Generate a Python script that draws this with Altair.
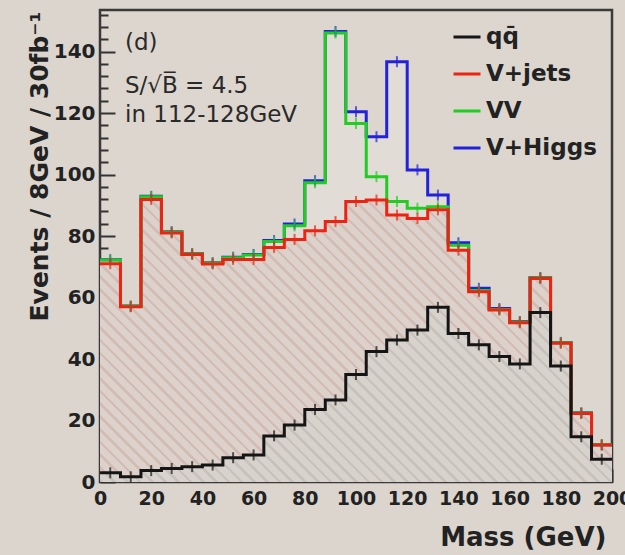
import altair as alt
import pandas as pd

# ---------------- data ----------------
bin_width = 8
bin_low = list(range(0, 200, 8))          # 25 bins, 0-200 GeV
series_names = ["qq̄", "V+jets", "VV", "V+Higgs"]
series_colors = ["#151515", "#ee2211", "#22cc22", "#2222dd"]

qq = [3.0, 1.7, 3.7, 4.4, 5.0, 5.5, 7.9, 8.8, 15.0, 18.5, 23.6, 26.7, 35.0,
      42.4, 46.2, 49.4, 56.8, 48.3, 44.6, 40.8, 38.4, 55.1, 37.7, 14.7, 7.4]
vjets = [71.0, 57.0, 91.9, 81.0, 74.0, 70.9, 72.4, 72.4, 76.3, 78.9, 81.7, 84.7, 91.2,
         91.7, 86.8, 85.7, 88.5, 75.4, 61.9, 55.9, 51.8, 66.2, 45.1, 22.3, 12.0]
vv = [72.2, 57.2, 92.8, 81.3, 74.2, 71.2, 72.9, 73.8, 78.2, 83.3, 97.3, 146.0, 116.6,
      99.3, 91.2, 89.0, 89.5, 77.0, 62.3, 56.1, 52.0, 66.4, 45.3, 22.4, 12.1]
vh = [72.3, 57.2, 92.9, 81.4, 74.3, 71.3, 73.1, 74.0, 78.5, 83.9, 98.0, 146.5, 120.4,
      112.3, 136.7, 101.5, 93.3, 77.8, 63.0, 56.4, 52.2, 66.5, 45.4, 22.5, 12.1]

annotations = ["(d)", "S/√B̅ = 4.5", "in 112-128GeV"]
x_title = "Mass (GeV)"
y_title = "Events / 8GeV / 30fb⁻¹"

x_max = 200
y_max = 153.5
x_ticks = list(range(0, 201, 5))      # labelled every 20
y_ticks = list(range(0, 153, 4))      # labelled every 20

# ---------------- tables ----------------
draw_order = ["V+Higgs", "VV", "V+jets", "qq̄"]
values_by_name = dict(zip(series_names, [qq, vjets, vv, vh]))

step_rows, bin_rows = [], []
for name in draw_order:
    vals = values_by_name[name]
    for lo, v in zip(bin_low, vals):
        step_rows.append({"series": name, "mass": lo, "value": v})
        bin_rows.append({"series": name, "mass": lo + bin_width / 2, "value": v})
    step_rows.append({"series": name, "mass": x_max, "value": vals[-1]})
steps = pd.DataFrame(step_rows)
bins = pd.DataFrame(bin_rows)

PLOT_W, PLOT_H = 512, 472
FONT = "DejaVu Sans"
TICK_COLOR = "#333333"


def hatch(line_color, gap_color, box_h, period=9.0, line_w=2.6):
    """Diagonal hatch ('\\' lines at 45 deg) as a striped linear gradient over the area's bounding box."""
    r = box_h / PLOT_W
    t = 1 + r
    x2, y2 = t / (1 + r * r), 1 - t * r / (1 + r * r)
    length_px = (PLOT_W + box_h) / 2 ** 0.5
    n = int(length_px / period) + 1
    stops = []
    for i in range(n):
        a = i * period / length_px
        if a >= 1:
            break
        b = min((i * period + line_w) / length_px, 1)
        c = min((i + 1) * period / length_px, 1)
        stops += [alt.GradientStop(offset=a, color=line_color),
                  alt.GradientStop(offset=b, color=line_color),
                  alt.GradientStop(offset=b, color=gap_color),
                  alt.GradientStop(offset=c, color=gap_color)]
    return alt.LinearGradient(gradient="linear", stops=stops, x1=0, y1=1, x2=x2, y2=y2)


xscale = alt.Scale(domain=[0, x_max], nice=False, zero=False)
yscale = alt.Scale(domain=[0, y_max], nice=False, zero=False)
color_scale = alt.Scale(domain=series_names, range=series_colors)
color = alt.Color("series:N", scale=color_scale,
                  legend=alt.Legend(title=None, orient="none", legendX=352, legendY=12,
                                    symbolType="stroke", symbolSize=729, symbolStrokeWidth=3,
                                    labelFont=FONT, labelFontWeight="bold", labelFontSize=23,
                                    labelColor="#222222", rowPadding=10, padding=0,
                                    labelOffset=4, labelLimit=300))

MAJOR = "datum.value % 20 === 0"
LABEL_EXPR = "datum.value % 20 === 0 ? datum.label : ''"

# inward ticks: the axis line is pushed inside by the major tick length, so the
# (outward) ticks end on the frame; minor ticks keep only their outer part via a dash
X_MAJ, X_MIN = 13, 7
Y_MAJ, Y_MIN = 15, 8
x_axis = alt.Axis(orient="bottom", values=x_ticks, domain=False, grid=False,
                  offset=-X_MAJ, tickSize=X_MAJ, tickColor=TICK_COLOR, tickWidth=2,
                  tickDash={"condition": {"test": MAJOR, "value": [100, 0]},
                            "value": [0, X_MAJ - X_MIN, X_MIN, 100]},
                  labelExpr=LABEL_EXPR, labelOverlap=False, labelFlush=False,
                  labelFont=FONT, labelFontWeight="bold", labelFontSize=19,
                  labelColor="#222222", labelPadding=7,
                  title=x_title, titleFont=FONT, titleFontWeight="bold", titleFontSize=26,
                  titleColor="#222222", titleAnchor="end", titleAlign="right",
                  titleX=506, titleY=63 + X_MAJ, titleBaseline="alphabetic")
y_axis = alt.Axis(orient="left", values=y_ticks, domain=False, grid=False,
                  offset=-Y_MAJ, tickSize=Y_MAJ, tickColor=TICK_COLOR, tickWidth=2,
                  tickDash={"condition": {"test": MAJOR, "value": [100, 0]},
                            "value": [0, Y_MAJ - Y_MIN, Y_MIN, 100]},
                  labelExpr=LABEL_EXPR, labelOverlap=False,
                  labelFont=FONT, labelFontWeight="bold", labelFontSize=20,
                  labelColor="#222222", labelPadding=5,
                  title=y_title, titleFont=FONT, titleFontWeight="bold", titleFontSize=25,
                  titleColor="#222222", titleAngle=270, titleAlign="right",
                  titleBaseline="bottom", titleX=-48 - Y_MAJ, titleY=1)


def X(field):
    return alt.X(field, scale=xscale, axis=x_axis, title=x_title)


def Y(field):
    return alt.Y(field, scale=yscale, axis=y_axis, title=y_title)


base = alt.Chart(steps)


def area(name, fill):
    return base.transform_filter(alt.datum.series == name).mark_area(
        interpolate="step-after", fill=fill, opacity=1).encode(x=X("mass:Q"), y=Y("value:Q"))


vj_box_h = max(vjets) / y_max * PLOT_H
qq_box_h = max(qq) / y_max * PLOT_H

fill_vh = area("V+Higgs", "#e1dcd6")
fill_vj = area("V+jets", hatch("#d2bdb4", "#ddd2cb", vj_box_h))
fill_qq = area("qq̄", hatch("#c8c2bc", "#d7d2cc", qq_box_h))

lines = base.mark_line(interpolate="step-after", strokeWidth=3).encode(
    x=X("mass:Q"), y=Y("value:Q"), color=color, detail="series:N")

errs = alt.Chart(bins).mark_tick(orient="vertical", size=11, thickness=2).encode(
    x=X("mass:Q"), y=Y("value:Q"),
    color=alt.Color("series:N", scale=color_scale, legend=None))

ann_pos = [(25, 40), (25, 83), (25, 112)]
texts = []
for t, (tx, ty) in zip(annotations, ann_pos):
    texts.append(alt.Chart(pd.DataFrame({"label": [t]})).mark_text(
        align="left", baseline="alphabetic", font=FONT, fontSize=23, color="#2a2a2a").encode(
        x=alt.value(tx), y=alt.value(ty), text="label:N"))

chart = alt.layer(fill_vh, fill_vj, fill_qq, lines, errs, *texts).properties(
    width=PLOT_W, height=PLOT_H,
    autosize=alt.AutoSizeParams(type="none"),
    padding={"left": 100, "top": 10, "right": 13, "bottom": 73},
    background="#dbd5ce").configure_axis(zindex=1).configure_view(
    stroke="#3a3a3a", strokeWidth=2.5, fill="#dcd6cf")

chart.save("out.html", embed_options={"renderer": "svg", "actions": False})
